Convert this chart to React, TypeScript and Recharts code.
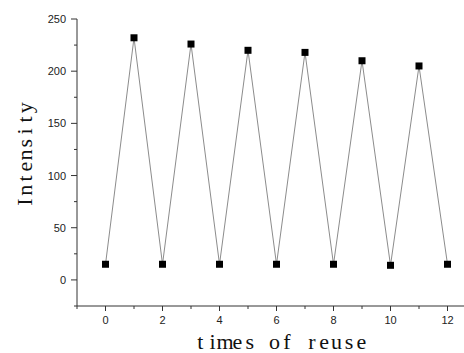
import React from 'react';
import { LineChart, Line, XAxis, YAxis, Label } from 'recharts';

const reuseTimes = [0, 1, 2, 3, 4, 5, 6, 7, 8, 9, 10, 11, 12];
const intensity = [15, 232, 15, 226, 15, 220, 15, 218, 15, 210, 14, 205, 15];
const xTicks = [-1, 0, 1, 2, 3, 4, 5, 6, 7, 8, 9, 10, 11, 12, 13];
const yTicks = [-25, 0, 25, 50, 75, 100, 125, 150, 175, 200, 225, 250];

const chartData = reuseTimes.map((t, i) => ({ t, value: intensity[i] }));

const axisColor = '#333';
const tickFont = '"Liberation Sans", Arial, sans-serif';
const titleFont = '"Liberation Serif", "Times New Roman", serif';

// places each glyph in an even cell so the title reads like a monospaced face
const cells = (text: string, start: number, pitch: number) =>
    text.split('').map((_, i) => (start + (i + 0.5) * pitch).toFixed(1)).join(' ');

const XTick = (props: any) => {
    const { x, y, payload } = props;
    const v = payload.value;
    const major = v % 2 === 0;
    return (
        <g>
            <line x1={x} x2={x} y1={y} y2={y + (major ? 5 : 3)} stroke={axisColor} />
            {major && (
                <text x={x} y={y + 18} textAnchor="middle" fontSize={11} fontFamily={tickFont} fill="#222">
                    {v}
                </text>
            )}
        </g>
    );
};

const YTick = (props: any) => {
    const { x, y, payload } = props;
    const v = payload.value;
    const major = v % 50 === 0;
    return (
        <g>
            <line x1={x - (major ? 6 : 3)} x2={x} y1={y} y2={y} stroke={axisColor} />
            {major && (
                <text x={x - 11} y={y + 4} textAnchor="end" fontSize={11} fontFamily={tickFont} fill="#222">
                    {v}
                </text>
            )}
        </g>
    );
};

const SquareDot = (props: any) => {
    const { cx, cy, index } = props;
    return <rect key={`pt-${index}`} x={cx - 3.5} y={cy - 3.5} width={7} height={7} fill="#000" />;
};

const App: React.FC = () => {
    return (
        <div style={{ position: 'absolute', left: 0, top: 0, width: 464, height: 353, overflow: 'hidden', background: '#fff' }}>
            <LineChart width={476} height={353} data={chartData} margin={{ top: 19, right: 0, bottom: 0, left: 0 }}>
                <XAxis
                    dataKey="t"
                    type="number"
                    domain={[-1, 13]}
                    ticks={xTicks}
                    interval={0}
                    allowDataOverflow
                    height={47}
                    tickSize={0}
                    tickMargin={0}
                    tickLine={false}
                    axisLine={{ stroke: axisColor }}
                    tick={(p: any) => <XTick {...p} />}
                >
                    <Label
                        content={() => (
                            <text
                                x={cells('times of reuse', 194, 12.4)}
                                y={349}
                                textAnchor="middle"
                                fontSize={22}
                                fontFamily={titleFont}
                                fill="#111"
                            >
                                times of reuse
                            </text>
                        )}
                    />
                </XAxis>
                <YAxis
                    type="number"
                    domain={[-25, 250]}
                    ticks={yTicks}
                    interval={0}
                    width={77}
                    tickSize={0}
                    tickMargin={0}
                    tickLine={false}
                    axisLine={{ stroke: axisColor }}
                    tick={(p: any) => <YTick {...p} />}
                >
                    <Label
                        content={() => (
                            <text
                                x={cells('Intensity', 32 - 53, 11.8)}
                                y={155}
                                transform="rotate(-90, 32, 155)"
                                textAnchor="middle"
                                fontSize={22}
                                fontFamily={titleFont}
                                fill="#111"
                            >
                                Intensity
                            </text>
                        )}
                    />
                </YAxis>
                <Line
                    dataKey="value"
                    stroke="#8c8c8c"
                    strokeWidth={1}
                    dot={(p: any) => <SquareDot {...p} />}
                    activeDot={false}
                    isAnimationActive={false}
                />
            </LineChart>
        </div>
    );
};

export default App;
